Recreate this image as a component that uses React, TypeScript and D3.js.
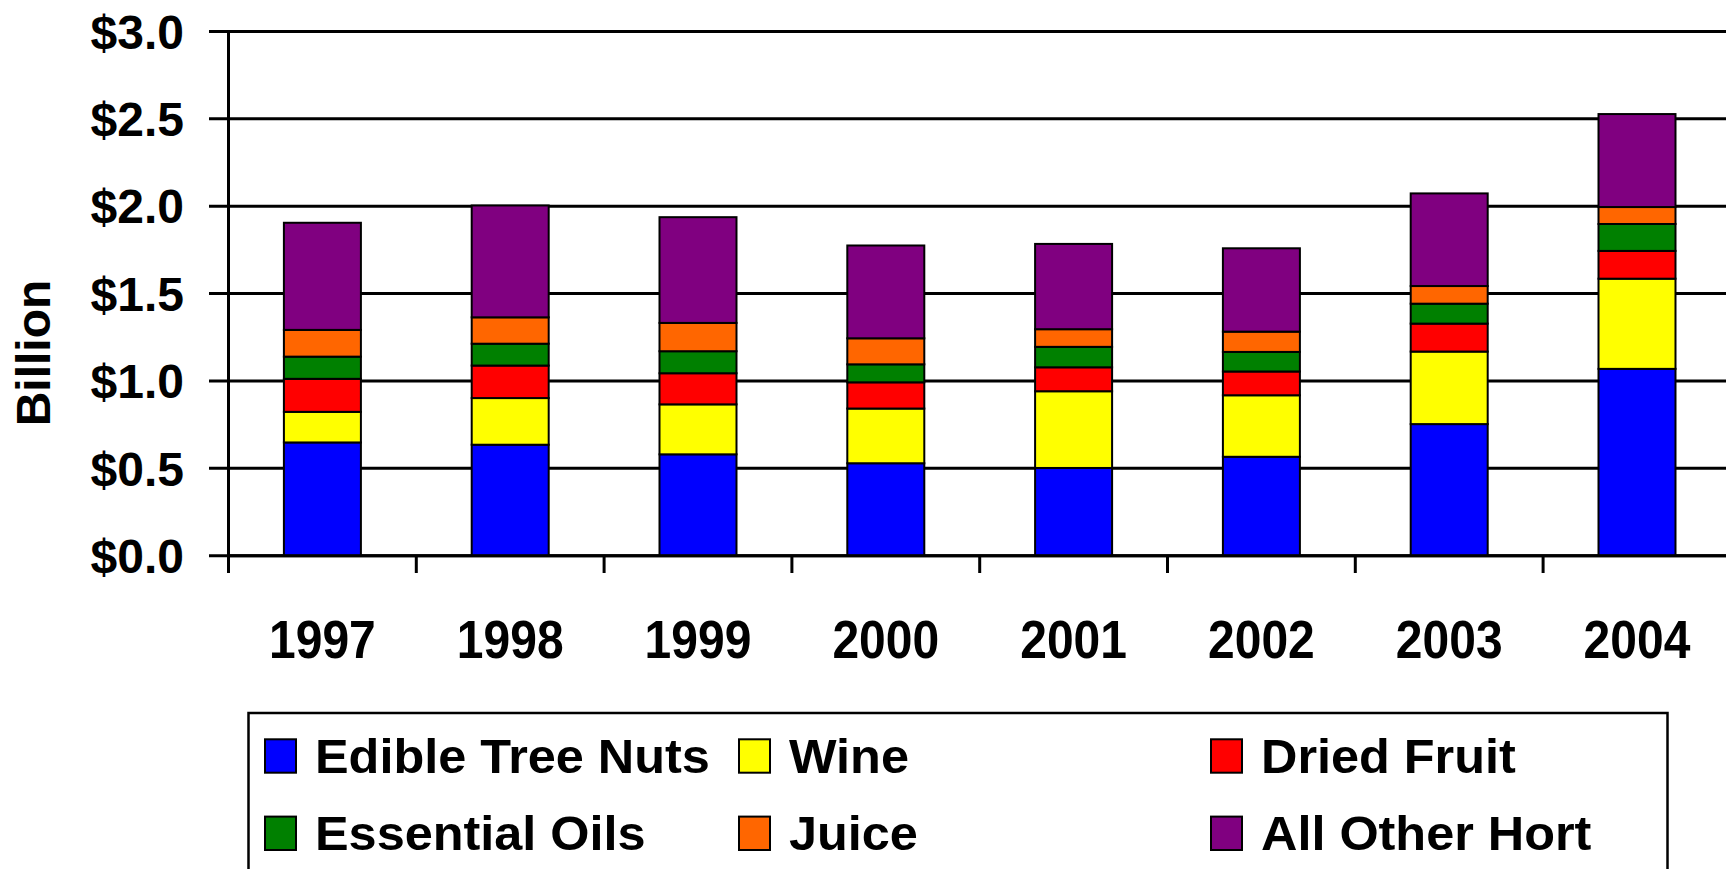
import React from 'react';
import * as d3 from 'd3';

const years = ['1997', '1998', '1999', '2000', '2001', '2002', '2003', '2004'];
const edibleTreeNuts = [0.648, 0.635, 0.580, 0.529, 0.502, 0.566, 0.753, 1.069];
const wine = [0.175, 0.267, 0.286, 0.313, 0.439, 0.352, 0.415, 0.516];
const driedFruit = [0.189, 0.186, 0.178, 0.150, 0.137, 0.136, 0.160, 0.159];
const essentialOils = [0.127, 0.125, 0.126, 0.103, 0.117, 0.112, 0.114, 0.154];
const juice = [0.153, 0.151, 0.162, 0.149, 0.101, 0.116, 0.101, 0.097];
const allOtherHort = [0.613, 0.640, 0.605, 0.531, 0.488, 0.477, 0.530, 0.532];

const seriesNames = ['Edible Tree Nuts', 'Wine', 'Dried Fruit', 'Essential Oils', 'Juice', 'All Other Hort'];
const seriesValues = [edibleTreeNuts, wine, driedFruit, essentialOils, juice, allOtherHort];
const seriesColors = ['#0000FF', '#FFFF00', '#FF0000', '#008000', '#FF6600', '#800080'];
const yTicks = [0, 0.5, 1.0, 1.5, 2.0, 2.5, 3.0];

const W = 1726;
const H = 869;
const FONT = '"Liberation Sans", Arial, Helvetica, sans-serif';

export default function App() {
  const x0 = 228.5;
  const step = 187.8;
  const x = d3
    .scaleBand<string>()
    .domain(years)
    .range([x0, x0 + step * years.length])
    .paddingInner(0.59)
    .paddingOuter(0.295);
  const y = d3.scaleLinear().domain([0, 3]).range([555.7, 31.4]);

  const rows = years.map((yr, i) => {
    const r: any = { year: yr };
    seriesNames.forEach((n, j) => (r[n] = seriesValues[j][i]));
    return r;
  });
  const stacked = d3.stack<any>().keys(seriesNames)(rows);

  const boundaries = d3.range(years.length + 1).map((k) => x0 + k * step);

  const legendCols = [265, 739, 1211];
  const legendRows = [772.7, 850];

  return (
    <svg
      width={W}
      height={H}
      style={{ position: 'absolute', left: 0, top: 0, background: '#fff' }}
      fontFamily={FONT}
    >
      <rect x={0} y={0} width={W} height={H} fill="#fff" />
      {/* gridlines + y tick marks */}
      {yTicks.map((t) => (
        <line key={'g' + t} x1={209} x2={W} y1={y(t)} y2={y(t)} stroke="#000" strokeWidth={3} />
      ))}
      {/* y tick labels */}
      {yTicks.map((t) => (
        <text
          key={'yl' + t}
          x={184}
          y={y(t)}
          dy="0.36em"
          textAnchor="end"
          fontSize={48}
          fontWeight="bold"
          fill="#000"
        >
          {'$' + d3.format('.1f')(t)}
        </text>
      ))}
      {/* bars */}
      {stacked.map((s, j) => (
        <g key={s.key} fill={seriesColors[j]} stroke="#000" strokeWidth={2}>
          {s.map((d: any, i: number) => (
            <rect
              key={i}
              x={x(years[i])!}
              width={x.bandwidth()}
              y={y(d[1])}
              height={y(d[0]) - y(d[1])}
            />
          ))}
        </g>
      ))}
      {/* axes */}
      <line x1={x0} x2={x0} y1={y(3)} y2={573} stroke="#000" strokeWidth={3} />
      <line x1={x0} x2={W} y1={y(0)} y2={y(0)} stroke="#000" strokeWidth={3} />
      {boundaries.map((bx, k) => (
        <line key={'t' + k} x1={bx} x2={bx} y1={y(0)} y2={573} stroke="#000" strokeWidth={3} />
      ))}
      {/* x labels */}
      {years.map((yr) => (
        <text
          key={'xl' + yr}
          transform={`translate(${x(yr)! + x.bandwidth() / 2},658) scale(1,1.12)`}
          textAnchor="middle"
          fontSize={48}
          fontWeight="bold"
          fill="#000"
        >
          {yr}
        </text>
      ))}
      {/* y axis title */}
      <text
        transform="translate(50,353) rotate(-90)"
        textAnchor="middle"
        fontSize={48}
        fontWeight="bold"
        fill="#000"
      >
        Billion
      </text>
      {/* legend */}
      <rect x={248.5} y={713} width={1419} height={220} fill="#fff" stroke="#000" strokeWidth={2.5} />
      {seriesNames.map((n, j) => {
        const col = j % 3;
        const row = Math.floor(j / 3);
        const lx = legendCols[col];
        const ly = legendRows[row];
        return (
          <g key={'lg' + n}>
            <rect x={lx} y={ly - 33.4} width={31} height={33.4} fill={seriesColors[j]} stroke="#000" strokeWidth={2} />
            <text
              transform={`translate(${lx + 50},${ly}) scale(1.05,1)`}
              fontSize={48}
              fontWeight="bold"
              fill="#000"
            >
              {n}
            </text>
          </g>
        );
      })}
    </svg>
  );
}
